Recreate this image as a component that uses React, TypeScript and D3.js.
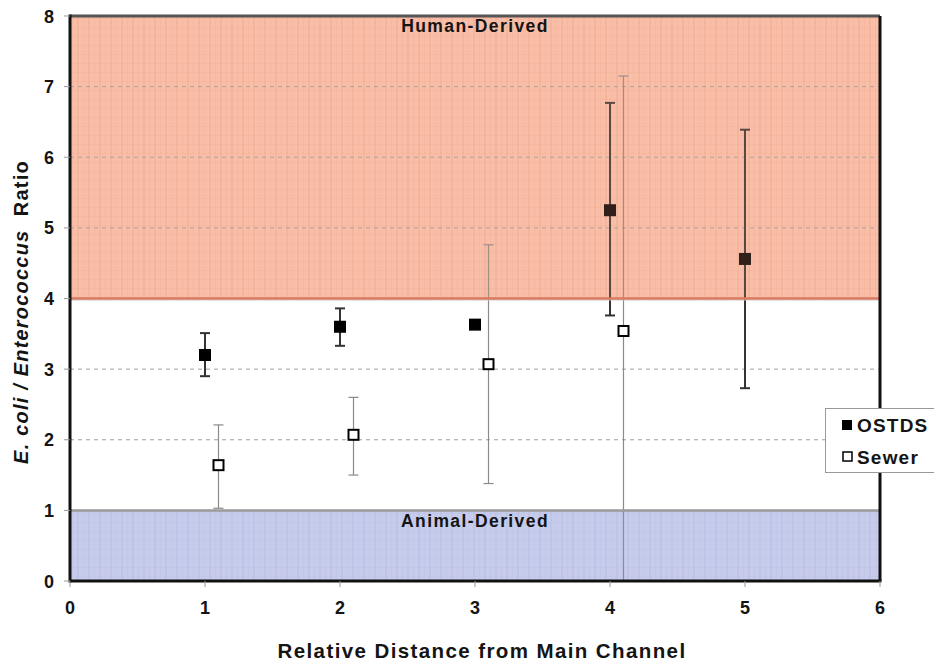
import React from "react";
import * as d3 from "d3";

// Distance categories and E. coli / Enterococcus ratios
const ostdsX = [1, 2, 3, 4, 5];
const ostdsMean = [3.2, 3.6, 3.63, 5.25, 4.56];
const ostdsLow = [2.9, 3.33, 3.63, 3.76, 2.73];
const ostdsHigh = [3.51, 3.86, 3.63, 6.77, 6.39];

const sewerX = [1.1, 2.1, 3.1, 4.1];
const sewerMean = [1.64, 2.07, 3.07, 3.54];
const sewerLow = [1.03, 1.5, 1.38, 0];
const sewerHigh = [2.21, 2.6, 4.76, 7.15];

const xTicks = [0, 1, 2, 3, 4, 5, 6];
const yTicks = [0, 1, 2, 3, 4, 5, 6, 7, 8];

const humanBand = [4, 8];
const animalBand = [0, 1];

const W = 934;
const H = 661;
const FONT = "'Liberation Sans', Arial, sans-serif";

export default function App() {
  const x = d3.scaleLinear().domain([0, 6]).range([70, 880]);
  const y = d3.scaleLinear().domain([0, 8]).range([581, 16]);

  const ostds = ostdsX.map((v, i) => ({ x: v, m: ostdsMean[i], lo: ostdsLow[i], hi: ostdsHigh[i] }));
  const sewer = sewerX.map((v, i) => ({ x: v, m: sewerMean[i], lo: sewerLow[i], hi: sewerHigh[i] }));

  const capW = 5;
  const mk = 12;
  const ink = "#141414";

  return (
    <svg
      width={W}
      height={H}
      style={{ position: "absolute", left: 0, top: 0, background: "#fff" }}
      fontFamily={FONT}
    >
      <defs>
        <pattern id="plaidRed" width="11" height="9" patternUnits="userSpaceOnUse">
          <rect width="11" height="9" fill="#f9c6b2" />
          <rect x="0" y="0" width="2" height="9" fill="#f3ad93" opacity="0.5" />
          <rect x="6" y="0" width="1" height="9" fill="#f3ad93" opacity="0.35" />
          <rect x="0" y="0" width="11" height="1" fill="#f3ad93" opacity="0.35" />
        </pattern>
        <pattern id="plaidBlue" width="11" height="9" patternUnits="userSpaceOnUse">
          <rect width="11" height="9" fill="#ced2f0" />
          <rect x="0" y="0" width="2" height="9" fill="#bcc1e6" opacity="0.5" />
          <rect x="6" y="0" width="1" height="9" fill="#bcc1e6" opacity="0.35" />
          <rect x="0" y="0" width="11" height="1" fill="#bcc1e6" opacity="0.35" />
        </pattern>
      </defs>

      {/* source bands */}
      <rect x={x(0)} y={y(humanBand[1])} width={x(6) - x(0)} height={y(humanBand[0]) - y(humanBand[1])} fill="url(#plaidRed)" />
      <rect x={x(0)} y={y(animalBand[1])} width={x(6) - x(0)} height={y(animalBand[0]) - y(animalBand[1])} fill="url(#plaidBlue)" />

      {/* dashed gridlines */}
      {yTicks.filter((t) => t > 0 && t < 8).map((t) => (
        <line key={t} x1={x(0)} x2={x(6)} y1={y(t)} y2={y(t)} stroke="#a0a0a0" strokeWidth={1} strokeDasharray="4,4" />
      ))}

      {/* sewer error bars */}
      {sewer.map((d, i) => (
        <g key={"se" + i} stroke="#8a8a8a" strokeWidth={1.2}>
          <line x1={x(d.x)} x2={x(d.x)} y1={y(d.hi)} y2={y(d.lo)} />
          <line x1={x(d.x) - capW} x2={x(d.x) + capW} y1={y(d.hi)} y2={y(d.hi)} />
          <line x1={x(d.x) - capW} x2={x(d.x) + capW} y1={y(d.lo)} y2={y(d.lo)} />
        </g>
      ))}

      {/* OSTDS error bars */}
      {ostds.map((d, i) => (
        <g key={"oe" + i} stroke="#333" strokeWidth={2}>
          <line x1={x(d.x)} x2={x(d.x)} y1={y(d.hi)} y2={y(d.lo)} />
          <line x1={x(d.x) - capW} x2={x(d.x) + capW} y1={y(d.hi)} y2={y(d.hi)} />
          <line x1={x(d.x) - capW} x2={x(d.x) + capW} y1={y(d.lo)} y2={y(d.lo)} />
        </g>
      ))}

      {/* markers */}
      {ostds.map((d, i) => (
        <rect key={"om" + i} x={x(d.x) - mk / 2} y={y(d.m) - mk / 2} width={mk} height={mk} fill="#000" />
      ))}
      {sewer.map((d, i) => (
        <rect key={"sm" + i} x={x(d.x) - (mk - 2) / 2} y={y(d.m) - (mk - 2) / 2} width={mk - 2} height={mk - 2} fill="#fff" stroke="#000" strokeWidth={2} />
      ))}

      {/* tint laid over the bands so marks inside take their hue */}
      <rect x={x(0)} y={y(humanBand[1])} width={x(6) - x(0)} height={y(humanBand[0]) - y(humanBand[1])} fill="#f4a080" opacity={0.2} />
      <rect x={x(0)} y={y(animalBand[1])} width={x(6) - x(0)} height={y(animalBand[0]) - y(animalBand[1])} fill="#9aa2d8" opacity={0.12} />

      {/* band edges */}
      <line x1={x(0)} x2={x(6)} y1={y(4) + 1.5} y2={y(4) + 1.5} stroke="#c9c9c9" strokeWidth={1} />
      <line x1={x(0)} x2={x(6)} y1={y(4)} y2={y(4)} stroke="#d97a62" strokeWidth={2.5} />
      <line x1={x(0)} x2={x(6)} y1={y(1)} y2={y(1)} stroke="#9a9a9a" strokeWidth={2.5} />

      {/* band labels */}
      <text x={x(3)} y={y(7.77)} textAnchor="middle" fontWeight="bold" fontSize={17.5} letterSpacing={1.4} fill={ink}>Human-Derived</text>
      <text x={x(3)} y={y(0.77)} textAnchor="middle" fontWeight="bold" fontSize={17.5} letterSpacing={1.4} fill={ink}>Animal-Derived</text>

      {/* frame */}
      <line x1={x(0)} x2={x(6)} y1={y(8)} y2={y(8)} stroke="#555" strokeWidth={3} />
      <line x1={x(6)} x2={x(6)} y1={y(8)} y2={y(0)} stroke="#111" strokeWidth={3} />
      <line x1={x(0)} x2={x(0)} y1={y(8) - 1.5} y2={y(0) + 1.5} stroke="#111" strokeWidth={3} />
      <line x1={x(0)} x2={x(6) + 1.5} y1={y(0)} y2={y(0)} stroke="#111" strokeWidth={3} />

      {/* y axis */}
      {yTicks.map((t) => (
        <g key={"yt" + t}>
          <line x1={x(0) - 6} x2={x(0)} y1={y(t)} y2={y(t)} stroke="#999" strokeWidth={1} />
          <text x={54} y={y(t) + 6.5} textAnchor="end" fontWeight="bold" fontSize={18} fill={ink}>{t}</text>
        </g>
      ))}

      {/* x axis */}
      {xTicks.map((t) => (
        <g key={"xt" + t}>
          <line x1={x(t)} x2={x(t)} y1={y(0)} y2={y(0) + 6} stroke="#999" strokeWidth={1} />
          <text x={x(t)} y={614} textAnchor="middle" fontWeight="bold" fontSize={18} fill={ink}>{t}</text>
        </g>
      ))}

      <text x={482} y={658} textAnchor="middle" fontWeight="bold" fontSize={20.5} letterSpacing={1.4} fill={ink}>
        Relative Distance from Main Channel
      </text>

      <text transform={`translate(28, 312) rotate(-90)`} textAnchor="middle" fontWeight="bold" fontSize={20} letterSpacing={1.2} fill={ink}>
        <tspan fontStyle="italic">E. coli / Enterococcus</tspan>
        <tspan>{"\u00a0 Ratio"}</tspan>
      </text>

      {/* legend */}
      <rect x={825.5} y={408.5} width={120} height={64} fill="#fff" stroke="#999" strokeWidth={1} />
      <rect x={842} y={420} width={10} height={10} fill="#000" />
      <text x={857} y={432} fontWeight="bold" fontSize={19} letterSpacing={1.2} fill={ink}>OSTDS</text>
      <rect x={843} y={452} width={9} height={9} fill="#fff" stroke="#000" strokeWidth={1.5} />
      <text x={857} y={464} fontWeight="bold" fontSize={19} letterSpacing={1.2} fill={ink}>Sewer</text>
    </svg>
  );
}
